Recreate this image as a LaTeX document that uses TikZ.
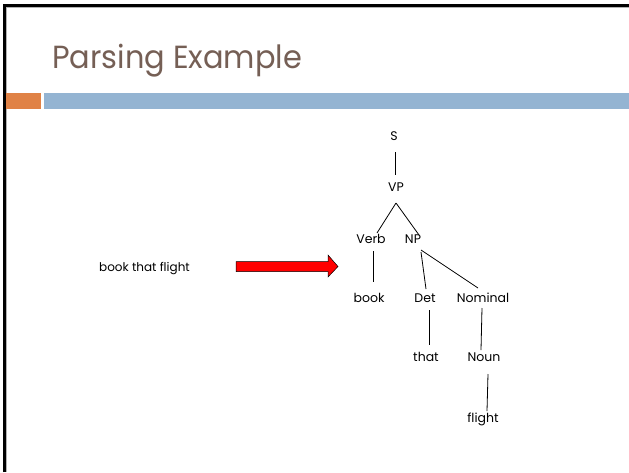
\documentclass[tikz,border=0pt]{standalone}
\usepackage{fontspec}
\setmainfont{Poppins}
\definecolor{titlebrown}{RGB}{117,95,85}
\definecolor{accentorange}{RGB}{224,130,70}
\definecolor{accentblue}{RGB}{148,180,210}
\definecolor{arrowred}{RGB}{255,0,0}
\tikzset{
  word/.style={font=\fontsize{12.5}{14}\selectfont, inner sep=1pt, text height=1.6ex, text depth=0.3ex, anchor=center},
  branch/.style={draw=black, line width=0.8pt},
}
\begin{document}
\begin{tikzpicture}[x=1pt,y=-1pt]
  \useasboundingbox (0,0) rectangle (629,472);
  \fill[white] (0,0) rectangle (629,472);
  % slide frame
  \draw[gray!60, line width=4pt] (4.5,472) -- (4.5,5.5) -- (629,5.5);
  \draw[black, line width=2.5pt] (4.5,472) -- (4.5,5.5) -- (629,5.5);
  % title
  \node[anchor=base west, inner sep=0pt, text=titlebrown, font=\fontsize{32}{36}\selectfont, xscale=0.95] (title) at (52,68) {Parsing Example};
  % header rule
  \fill[accentorange] (6,93) rectangle (41,108.5);
  \fill[accentblue] (44,93) rectangle (629,108.5);
  % input sentence and arrow
  \node[word, font=\fontsize{12}{14}\selectfont] (input) at (144.5,268) {book that flight};
  \draw[black, line width=0.5pt, fill=arrowred] (236,261.7) -- (328,261.7) -- (328,255) -- (338,266.5) -- (328,277) -- (328,271.7) -- (236,271.7) -- cycle;
  % parse tree
  \node[word] (S) at (394,137) {S};
  \node[word] (VP) at (396,188) {VP};
  \node[word] (Verb) at (371,240) {Verb};
  \node[word] (NP) at (413,240) {NP};
  \node[word] (book) at (369,299) {book};
  \node[word] (Det) at (425,299) {Det};
  \node[word] (Nominal) at (483,299) {Nominal};
  \node[word] (that) at (426,358) {that};
  \node[word] (Noun) at (484,358) {Noun};
  \node[word] (flight) at (483,419) {flight};
  \draw[branch] ([shift={(1,15)}]S.center) -- ([shift={(-1,-13)}]VP.center);
  \draw[branch] ([shift={(0,15)}]VP.center) -- ([shift={(6,-7)}]Verb.center);
  \draw[branch] ([shift={(0,15)}]VP.center) -- ([shift={(6,-5)}]NP.center);
  \draw[branch] ([shift={(2,11)}]Verb.center) -- ([shift={(4,-17)}]book.center);
  \draw[branch] ([shift={(8,12)}]NP.center) -- ([shift={(1,-10)}]Det.center);
  \draw[branch] ([shift={(8,10)}]NP.center) -- ([shift={(-5,-11)}]Nominal.center);
  \draw[branch] ([shift={(4,11)}]Det.center) -- ([shift={(3,-13)}]that.center);
  \draw[branch] ([shift={(-1,9)}]Nominal.center) -- ([shift={(-3,-8)}]Noun.center);
  \draw[branch] ([shift={(4,16)}]Noun.center) -- ([shift={(4,-8)}]flight.center);
\end{tikzpicture}
\end{document}
